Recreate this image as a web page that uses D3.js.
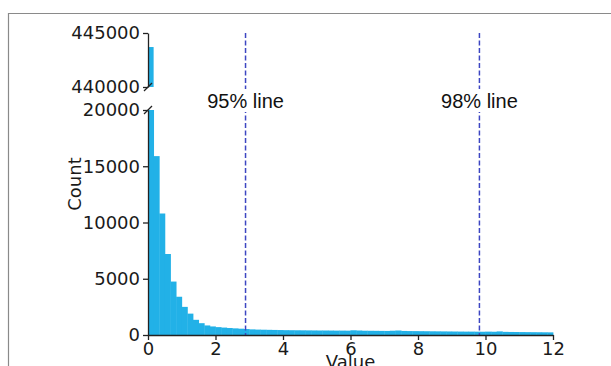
<!DOCTYPE html>
<html>
<head>
<meta charset="utf-8">
<script src="https://cdn.jsdelivr.net/npm/d3@7"></script>
<style>
  body { margin: 0; background: #fff; }
  svg { display: block; font-family: 'DejaVu Sans', sans-serif; }
  .axis text { font-size: 18px; fill: #1a1a1a; font-family: 'DejaVu Sans', sans-serif; }
  .axis line, .axis path { stroke: #222; stroke-width: 1.3; }
</style>
</head>
<body>
<svg id="chart" width="611" height="366"></svg>
<script>
// histogram of values, bins of width 1/6 from 0 to 12
const binWidth = 1 / 6;
const counts = [
  443700, 15900, 10800, 7200, 4750, 3400, 2500, 1900, 1350, 1050, 850, 760,
  700, 660, 620, 590, 560, 530, 500, 480, 470, 460, 450, 440,
  430, 425, 420, 415, 410, 405, 400, 400, 395, 390, 390, 385,
  420, 400, 380, 375, 370, 365, 360, 380, 400, 360, 350, 345,
  340, 335, 330, 325, 320, 315, 310, 305, 300, 300, 295, 290,
  300, 290, 320, 280, 270, 265, 260, 255, 250, 245, 240, 235
];
const xTicks = [0, 2, 4, 6, 8, 10, 12];
const lowTicks = [0, 5000, 10000, 15000, 20000];
const highTicks = [440000, 445000];
const refLines = [
  {value: 2.89, label: '95% line'},
  {value: 9.82, label: '98% line'}
];

const svg = d3.select('#chart');
const barColor = '#22b1e7';
const lineColor = '#3d46c2';

// outer frame
svg.append('path')
  .attr('d', 'M8.5,366 V13.5 H611')
  .attr('fill', 'none')
  .attr('stroke', '#8a8a8a')
  .attr('stroke-width', 1.2);

const x = d3.scaleLinear().domain([0, 12]).range([148, 553]);
const yLow = d3.scaleLinear().domain([0, 20000]).range([335, 110]);
const yHigh = d3.scaleLinear().domain([440000, 445000]).range([87, 33]);

const bins = counts.map((c, i) => ({x0: i * binWidth, x1: (i + 1) * binWidth, count: c}));

// lower panel bars (clipped at 20000)
svg.append('g')
  .selectAll('rect')
  .data(bins)
  .join('rect')
  .attr('x', d => x(d.x0))
  .attr('width', d => x(d.x1) - x(d.x0) + 0.4)
  .attr('y', d => yLow(Math.min(d.count, 20000)))
  .attr('height', d => yLow(0) - yLow(Math.min(d.count, 20000)))
  .attr('fill', barColor);

// upper panel bars (only those above 440000)
svg.append('g')
  .selectAll('rect')
  .data(bins.filter(d => d.count > 440000))
  .join('rect')
  .attr('x', d => x(d.x0))
  .attr('width', d => x(d.x1) - x(d.x0))
  .attr('y', d => yHigh(Math.min(d.count, 445000)))
  .attr('height', d => yHigh(440000) - yHigh(Math.min(d.count, 445000)))
  .attr('fill', barColor);

// reference lines
const refs = svg.append('g');
refs.selectAll('line')
  .data(refLines)
  .join('line')
  .attr('x1', d => x(d.value))
  .attr('x2', d => x(d.value))
  .attr('y1', yHigh(445000))
  .attr('y2', yLow(0))
  .attr('stroke', lineColor)
  .attr('stroke-width', 1.5)
  .attr('stroke-dasharray', '5,2.5');

const labels = refs.selectAll('g.lbl')
  .data(refLines)
  .join('g')
  .attr('class', 'lbl')
  .attr('transform', d => `translate(${x(d.value)},101)`);
labels.append('rect')
  .attr('x', -43).attr('y', -12)
  .attr('width', 86).attr('height', 23)
  .attr('fill', '#fff');
labels.append('text')
  .attr('text-anchor', 'middle')
  .attr('dy', '0.35em')
  .style('font-family', "'Liberation Sans', Arial, sans-serif")
  .style('font-size', '20px')
  .attr('fill', '#111')
  .text(d => d.label);

// axes
svg.append('g')
  .attr('class', 'axis')
  .attr('transform', `translate(0,${yLow(0)})`)
  .call(d3.axisBottom(x).tickValues(xTicks).tickSize(5).tickPadding(2).tickSizeOuter(0));

svg.append('g')
  .attr('class', 'axis')
  .attr('transform', `translate(${x(0)},0)`)
  .call(d3.axisLeft(yLow).tickValues(lowTicks).tickFormat(d3.format('d')).tickSize(5).tickPadding(3).tickSizeOuter(0));

svg.append('g')
  .attr('class', 'axis')
  .attr('transform', `translate(${x(0)},0)`)
  .call(d3.axisLeft(yHigh).tickValues(highTicks).tickFormat(d3.format('d')).tickSize(5).tickPadding(3).tickSizeOuter(0));

// break marks
svg.append('g')
  .selectAll('line')
  .data([yHigh(440000), yLow(20000)])
  .join('line')
  .attr('x1', x(0) - 4).attr('y1', d => d + 4)
  .attr('x2', x(0) + 4).attr('y2', d => d - 4)
  .attr('stroke', '#222')
  .attr('stroke-width', 1.2);

// axis titles
svg.append('text')
  .attr('x', (x(0) + x(12)) / 2)
  .attr('y', 368)
  .attr('text-anchor', 'middle')
  .style('font-size', '18px')
  .attr('fill', '#1a1a1a')
  .text('Value');

svg.append('text')
  .attr('transform', 'translate(81,184) rotate(-90)')
  .attr('text-anchor', 'middle')
  .style('font-size', '18px')
  .attr('fill', '#1a1a1a')
  .text('Count');
</script>
</body>
</html>
